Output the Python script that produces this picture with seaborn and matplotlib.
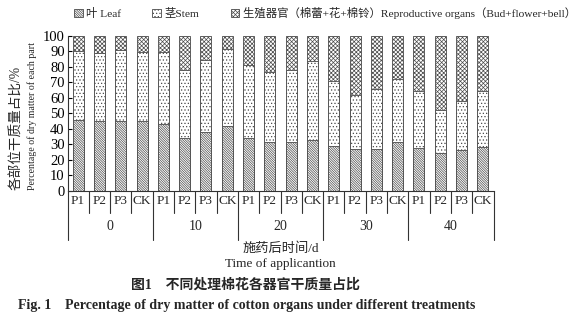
import numpy as np
import pandas as pd
import matplotlib
matplotlib.use("Agg")
import matplotlib.pyplot as plt
from matplotlib.patches import Patch
from matplotlib.lines import Line2D
from matplotlib.transforms import blended_transform_factory
import seaborn as sns

# Days after application and treatments
days = ["0", "10", "20", "30", "40"]
treatments = ["P1", "P2", "P3", "CK"]

# Dry-matter share (%) of leaf and stem; reproductive organs make up the rest
leaf = [45.8, 45.4, 45.0, 45.0,
        43.0, 34.4, 37.8, 41.9,
        34.2, 31.4, 31.4, 32.9,
        28.8, 27.1, 27.1, 31.6,
        27.5, 24.3, 26.5, 28.2]
stem = [44.7, 43.9, 46.0, 44.7,
        46.7, 43.4, 46.5, 49.9,
        47.3, 45.2, 46.7, 51.2,
        42.0, 34.6, 38.5, 40.4,
        37.0, 28.0, 31.4, 36.5]
yticks = list(range(0, 101, 10))

sns.set_theme(style="white")
plt.rcParams["font.family"] = ["Liberation Serif", "Noto Sans CJK SC"]
plt.rcParams["hatch.linewidth"] = 0.5
plt.rcParams["hatch.color"] = "#4a4a4a"

LEAF_HATCH = "\\" * 14
STEM_HATCH = "." * 5
REPRO_HATCH = "x" * 8

keys = [f"{d}-{t}" for d in days for t in treatments]
df = pd.DataFrame({
    "key": keys,
    "leaf": leaf,
    "leaf_stem": np.array(leaf) + np.array(stem),
    "total": 100.0,
})

fig = plt.figure(figsize=(5.83, 3.24), dpi=100)
ax = fig.add_axes([0.1158, 0.4105, 0.7307, 0.4784])

common = dict(x="key", order=keys, width=0.52, color="white",
              edgecolor="#4a4a4a", linewidth=0.6, ax=ax, errorbar=None)
sns.barplot(data=df, y="total", hatch=REPRO_HATCH, **common)
sns.barplot(data=df, y="leaf_stem", hatch=STEM_HATCH, **common)
sns.barplot(data=df, y="leaf", hatch=LEAF_HATCH, **common)

ax.set_xlim(-0.5, len(keys) - 0.5)
ax.set_ylim(0, 100)
ax.set_yticks(yticks)
ax.set_yticklabels([str(v) for v in yticks], fontsize=10.5)
ax.tick_params(axis="y", direction="in", length=3, width=0.8, pad=2,
               left=True, colors="black")
ax.set_xticks(range(len(keys)))
ax.set_xticklabels([t for d in days for t in treatments], fontsize=9.5)
ax.tick_params(axis="x", length=0, pad=3)
ax.set_xlabel("")
ax.set_ylabel("")
for s in ["top", "right"]:
    ax.spines[s].set_visible(False)
for s in ["left", "bottom"]:
    ax.spines[s].set_color("#333333")
    ax.spines[s].set_linewidth(0.8)

# Two-level category axis: short dividers between treatments, long ones between days
tr = blended_transform_factory(ax.transData, ax.transAxes)
n = len(treatments)
for i in range(len(keys) + 1):
    x = i - 0.5
    y_end = -0.316 if i % n == 0 else -0.142
    ax.add_line(Line2D([x, x], [0, y_end], transform=tr, color="#333333",
                       lw=0.8, clip_on=False))
for gi, d in enumerate(days):
    ax.text(gi * n + (n - 1) / 2, -0.232, d, transform=tr, ha="center",
            va="center", fontsize=10)

# Axis titles
ax.text(0.5, -0.33, "施药后时间/d", transform=ax.transAxes, ha="center",
        va="top", fontsize=9.5)
ax.text(0.5, -0.435, "Time of applicantion", transform=ax.transAxes,
        ha="center", va="top", fontsize=9.5)
fig.text(17 / 583, 1 - 128 / 324, "各部位干质量占比/%", rotation=90,
         ha="center", va="center", fontsize=9.8)
fig.text(32 / 583, 1 - 116 / 324, "Percentage of dry matter of each part",
         rotation=90, ha="center", va="center", fontsize=7.1)

# Legend across the top
handles = [
    Patch(facecolor="white", edgecolor="#4a4a4a", hatch=LEAF_HATCH, lw=0.6),
    Patch(facecolor="white", edgecolor="#4a4a4a", hatch=STEM_HATCH, lw=0.6),
    Patch(facecolor="white", edgecolor="#4a4a4a", hatch=REPRO_HATCH, lw=0.6),
]
labels = ["叶 Leaf", "茎Stem",
          "生殖器官（棉蕾+花+棉铃）Reproductive organs（Bud+flower+bell）"]
fig.legend(handles, labels, loc="center left", bbox_to_anchor=(74 / 583, 1 - 13 / 324),
           ncol=3, frameon=False, fontsize=8.2, handlelength=0.75,
           handleheight=0.75, handletextpad=0.3, columnspacing=2.75,
           borderaxespad=0, borderpad=0)

# Figure caption
fig.text(245 / 583, 1 - 285 / 324, "图1　不同处理棉花各器官干质量占比",
         ha="center", va="center", fontsize=10, fontweight="bold")
fig.text(18 / 583, 1 - 306 / 324,
         "Fig. 1　Percentage of dry matter of cotton organs under different treatments",
         ha="left", va="center", fontsize=10, fontweight="bold")

fig.savefig("out.png", dpi=100)
